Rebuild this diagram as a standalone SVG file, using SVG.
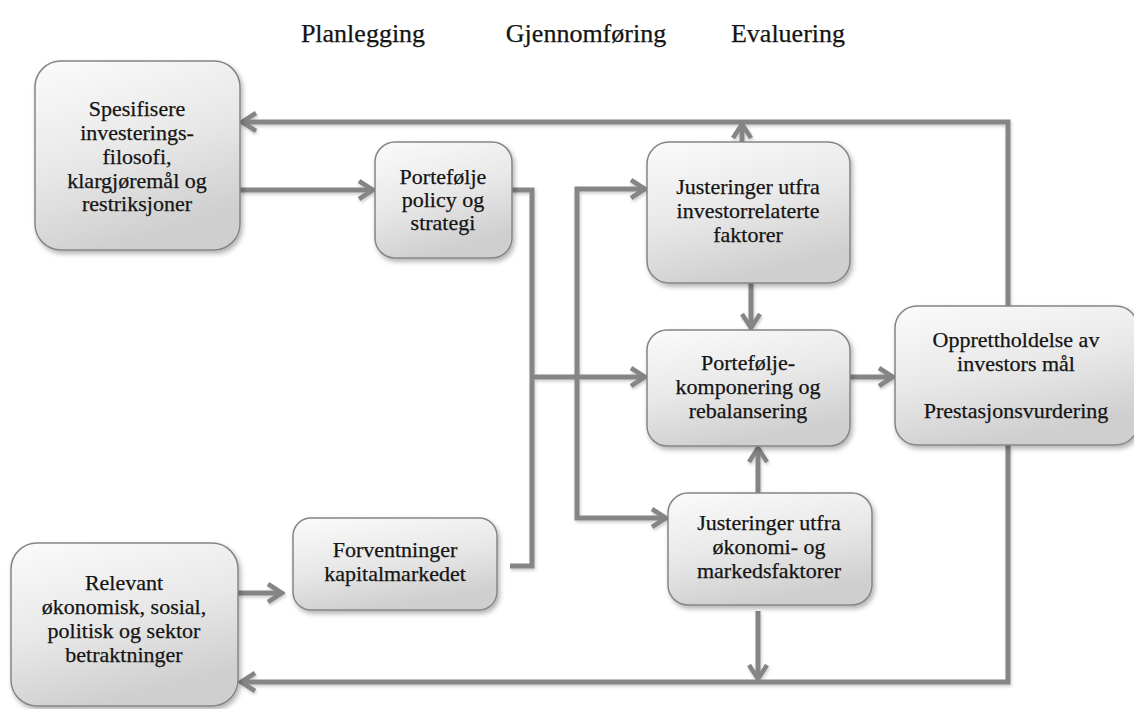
<svg xmlns="http://www.w3.org/2000/svg" width="1134" height="709" viewBox="0 0 1134 709">
  <defs>
    <linearGradient id="boxGrad" x1="0" y1="0" x2="0.35" y2="1">
      <stop offset="0" stop-color="#fbfbfb"/>
      <stop offset="0.55" stop-color="#e8e8e8"/>
      <stop offset="1" stop-color="#cfcfcf"/>
    </linearGradient>
    <filter id="shadow" x="-10%" y="-10%" width="125%" height="125%">
      <feDropShadow dx="2" dy="3" stdDeviation="2.5" flood-color="#000" flood-opacity="0.3"/>
    </filter>
    <filter id="lshadow" x="-5%" y="-5%" width="110%" height="110%">
      <feDropShadow dx="1" dy="2" stdDeviation="1.5" flood-color="#000" flood-opacity="0.2"/>
    </filter>
    <marker id="arrow" viewBox="0 0 20 24" refX="17" refY="12" markerWidth="20" markerHeight="24" markerUnits="userSpaceOnUse" orient="auto-start-reverse">
      <path d="M3,3 L17,12 L3,21" fill="none" stroke="#858585" stroke-width="4.5" stroke-linejoin="miter"/>
    </marker>
  </defs>
  <style>
    .box { fill: url(#boxGrad); stroke: #858585; stroke-width: 1.5; filter: url(#shadow); }
    .txt { font-family: "Liberation Serif", "Times New Roman", serif; font-size: 22px; fill: #141414; stroke: #141414; stroke-width: 0.25; text-anchor: middle; }
    .head { font-family: "Liberation Serif", "Times New Roman", serif; font-size: 26px; fill: #141414; stroke: #141414; stroke-width: 0.25; text-anchor: middle; }
    .conn { fill: none; stroke: #858585; stroke-width: 5; stroke-linejoin: miter; }
  </style>
  <rect width="1134" height="709" fill="#ffffff"/>

  <g id="headings">
    <text class="head" x="363" y="42">Planlegging</text>
    <text class="head" x="586" y="42">Gjennomføring</text>
    <text class="head" x="788" y="42">Evaluering</text>
  </g>

  <g id="connectors" filter="url(#lshadow)">
    <path class="conn" d="M1008,306 L1008,122 L242,122" marker-end="url(#arrow)"/>
    <path class="conn" d="M742,142 L742,124" marker-end="url(#arrow)"/>
    <path class="conn" d="M240,190 L373,190" marker-end="url(#arrow)"/>
    <path class="conn" d="M512,190 L532,190 L532,566 L510,566"/>
    <path class="conn" d="M532,377 L645,377" marker-end="url(#arrow)"/>
    <path class="conn" d="M645,189 L577,189 L577,518 L666,518" marker-start="url(#arrow)" marker-end="url(#arrow)"/>
    <path class="conn" d="M751,283 L751,328" marker-end="url(#arrow)"/>
    <path class="conn" d="M758,493 L758,448" marker-end="url(#arrow)"/>
    <path class="conn" d="M850,377 L893,377" marker-end="url(#arrow)"/>
    <path class="conn" d="M758,611 L758,679" marker-end="url(#arrow)"/>
    <path class="conn" d="M1008,445 L1008,682 L241,682" marker-end="url(#arrow)"/>
    <path class="conn" d="M238,593 L282,593" marker-end="url(#arrow)"/>
  </g>

  <g id="n1">
    <rect class="box" x="35" y="61" width="205" height="189" rx="26"/>
    <text class="txt" x="137" y="116">Spesifisere</text>
    <text class="txt" x="137" y="140">investerings-</text>
    <text class="txt" x="137" y="164">filosofi,</text>
    <text class="txt" x="137" y="188">klargjøremål og</text>
    <text class="txt" x="137" y="211">restriksjoner</text>
  </g>
  <g id="n2">
    <rect class="box" x="375" y="142" width="137" height="116" rx="20"/>
    <text class="txt" x="443" y="184">Portefølje</text>
    <text class="txt" x="443" y="207">policy og</text>
    <text class="txt" x="443" y="230">strategi</text>
  </g>
  <g id="n3">
    <rect class="box" x="647" y="142" width="203" height="141" rx="22"/>
    <text class="txt" x="748" y="194">Justeringer utfra</text>
    <text class="txt" x="748" y="218">investorrelaterte</text>
    <text class="txt" x="748" y="242">faktorer</text>
  </g>
  <g id="n4">
    <rect class="box" x="647" y="330" width="203" height="116" rx="20"/>
    <text class="txt" x="748" y="370">Portefølje-</text>
    <text class="txt" x="748" y="394">komponering og</text>
    <text class="txt" x="748" y="418">rebalansering</text>
  </g>
  <g id="n5">
    <rect class="box" x="895" y="306" width="243" height="139" rx="22"/>
    <text class="txt" x="1016" y="347">Opprettholdelse av</text>
    <text class="txt" x="1016" y="371">investors mål</text>
    <text class="txt" x="1016" y="418">Prestasjonsvurdering</text>
  </g>
  <g id="n6">
    <rect class="box" x="668" y="493" width="204" height="112" rx="20"/>
    <text class="txt" x="769" y="530">Justeringer utfra</text>
    <text class="txt" x="769" y="554">økonomi- og</text>
    <text class="txt" x="769" y="578">markedsfaktorer</text>
  </g>
  <g id="n7">
    <rect class="box" x="293" y="518" width="204" height="92" rx="18"/>
    <text class="txt" x="395" y="557">Forventninger</text>
    <text class="txt" x="395" y="581">kapitalmarkedet</text>
  </g>
  <g id="n8">
    <rect class="box" x="11" y="543" width="227" height="163" rx="26"/>
    <text class="txt" x="124" y="590">Relevant</text>
    <text class="txt" x="124" y="614">økonomisk, sosial,</text>
    <text class="txt" x="124" y="638">politisk og sektor</text>
    <text class="txt" x="124" y="662">betraktninger</text>
  </g>
</svg>
